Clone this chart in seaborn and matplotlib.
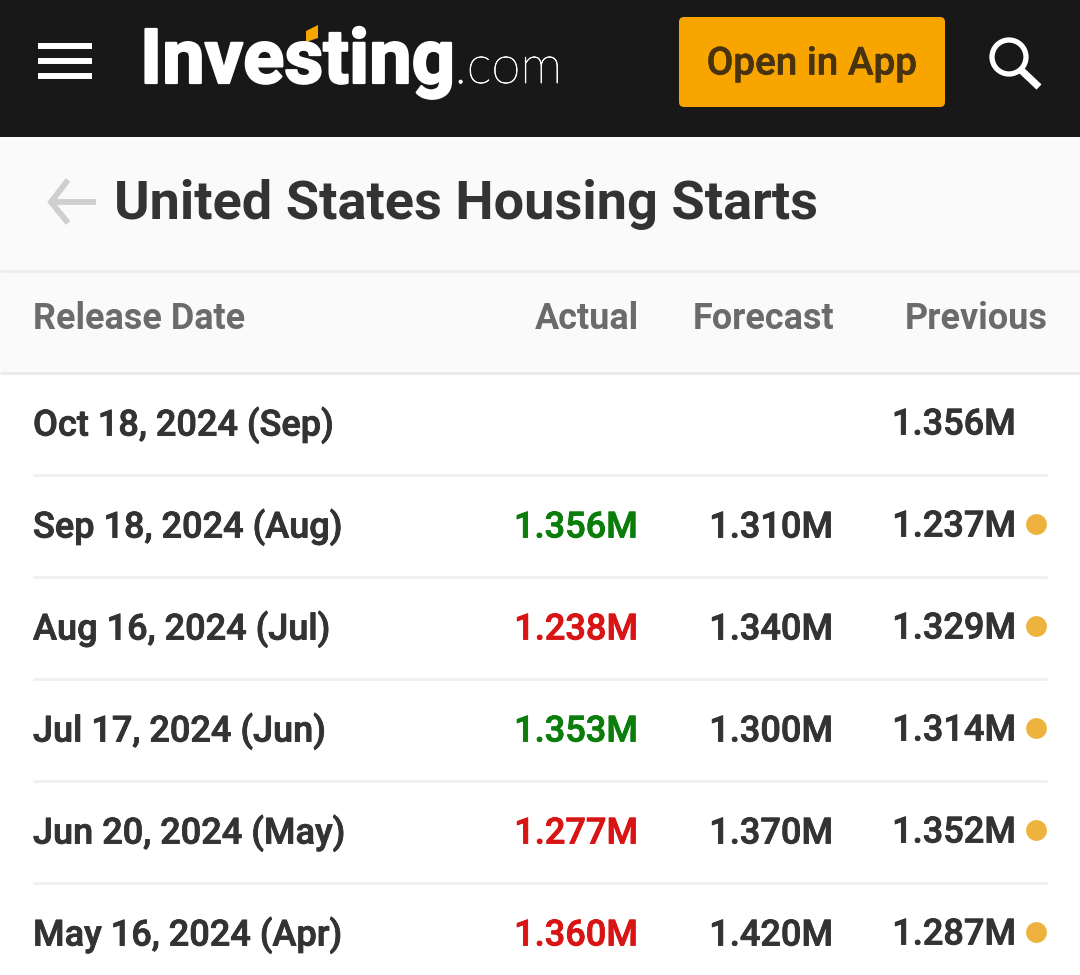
import matplotlib
matplotlib.use("Agg")
import matplotlib.pyplot as plt
from matplotlib.patches import FancyBboxPatch, Rectangle, Polygon, Circle
import matplotlib.patheffects as pe
import pandas as pd
import seaborn as sns

release_dates = ["Oct 18, 2024 (Sep)", "Sep 18, 2024 (Aug)", "Aug 16, 2024 (Jul)",
                 "Jul 17, 2024 (Jun)", "Jun 20, 2024 (May)", "May 16, 2024 (Apr)"]
actual = ["", "1.356M", "1.238M", "1.353M", "1.277M", "1.360M"]
forecast = ["", "1.310M", "1.340M", "1.300M", "1.370M", "1.420M"]
previous = ["1.356M", "1.237M", "1.329M", "1.314M", "1.352M", "1.287M"]
actual_color = ["#333333", "#0a7d0a", "#d91414", "#0a7d0a", "#d91414", "#d91414"]
has_dot = [False, True, True, True, True, True]
headers = ["Release Date", "Actual", "Forecast", "Previous"]
title = "United States Housing Starts"

sns.set_theme(style="white")
plt.rcParams["font.family"] = ["Roboto", "DejaVu Sans"]


def stroke(width, color):
    return [pe.withStroke(linewidth=width, foreground=color)]


fig = plt.figure(figsize=(10.8, 9.75), dpi=100, facecolor="white")
ax = fig.add_axes([0, 0, 1, 1])
ax.set_xlim(0, 1080)
ax.set_ylim(975, 0)
ax.axis("off")

# Top bar, title band, header band
ax.add_patch(Rectangle((0, 0), 1080, 137, color="#181818", lw=0))
ax.add_patch(Rectangle((0, 137), 1080, 133, color="#fafafa", lw=0))
ax.add_patch(Rectangle((0, 270), 1080, 103, color="#fafafa", lw=0))
ax.plot([0, 1080], [271, 271], color="#eeeeee", lw=2.0, solid_capstyle="butt")
ax.plot([0, 1080], [373, 373], color="#eaeaea", lw=2.0, solid_capstyle="butt")

# Hamburger
for y in (46.3, 61.3, 76.3):
    ax.plot([38, 92], [y, y], color="white", lw=4.3, solid_capstyle="butt")

# Logo
ax.text(140, 83, "Investing", color="white", fontsize=54.7, fontweight="bold",
        va="baseline", ha="left", path_effects=stroke(1.6, "white"))
ax.text(454.5, 83, ".com", color="white", fontsize=38, fontweight="light",
        family="Lato", va="baseline", ha="left", path_effects=stroke(0.5, "white"))
ax.add_patch(Polygon([(306, 31), (318, 25), (318, 38), (306, 42)], color="#f7a700", lw=0))

# App button
ax.add_patch(FancyBboxPatch((682, 20), 260, 84, boxstyle="round,pad=3,rounding_size=5",
                            fc="#f8a500", ec="#f8a500", lw=0))
ax.text(812, 64, "Open in App", color="#47330f", fontsize=27.8, fontweight="medium",
        ha="center", va="center", path_effects=stroke(0.4, "#47330f"))

# Search icon
ax.add_patch(Circle((1009, 57), 17, fc="none", ec="white", lw=3.8))
ax.plot([1021, 1039], [70, 87], color="white", lw=5.2, solid_capstyle="butt")

# Back arrow + title
ax.plot([68, 51, 68], [180, 202, 223], color="#cfcfcf", lw=4.2, solid_joinstyle="miter", solid_capstyle="butt")
ax.plot([52, 96], [202, 202], color="#cfcfcf", lw=4.2, solid_capstyle="butt")
ax.text(114, 204, title, color="#333333", fontsize=39, fontweight="bold", ha="left", va="center")

# Header row
hstyle = dict(color="#6b6b6b", fontsize=25.9, fontweight="bold", va="center")
ax.text(33, 319, headers[0], ha="left", **hstyle)
ax.text(639, 319, headers[1], ha="right", **hstyle)
ax.text(834, 319, headers[2], ha="right", **hstyle)
ax.text(1047.5, 319, headers[3], ha="right", **hstyle)

# Rows
rows = pd.DataFrame({"date": release_dates, "actual": actual, "forecast": forecast,
                     "previous": previous, "color": actual_color, "dot": has_dot})
rows["y"] = 423 + 102 * rows.index
rstyle = dict(fontsize=26.0, fontweight="medium", va="center")
for _, r in rows.iterrows():
    ax.text(33, r.y + 2, r.date, ha="left", color="#333333",
            path_effects=stroke(0.6, "#333333"), **rstyle)
    if r.actual:
        ax.text(638, r.y + 3, r.actual, ha="right", color=r.color,
                path_effects=stroke(0.6, r.color), **rstyle)
    if r.forecast:
        ax.text(833, r.y + 3, r.forecast, ha="right", color="#333333",
                path_effects=stroke(0.6, "#333333"), **rstyle)
    ax.text(1016, r.y + 2, r.previous, ha="right", color="#333333",
            path_effects=stroke(0.6, "#333333"), **rstyle)
    if r.y < 900:
        ax.plot([33, 1047], [r.y + 52, r.y + 52], color="#f0f0f0", lw=2.0, solid_capstyle="butt")

dots = rows[rows["dot"]].assign(x=1036, y=lambda d: d["y"] - 1)
sns.scatterplot(data=dots, x="x", y="y", color="#eeb33f", s=225, linewidth=0, ax=ax, legend=False, zorder=3)
ax.set_xlim(0, 1080)
ax.set_ylim(975, 0)
ax.axis("off")

fig.savefig("out.png", dpi=100)
